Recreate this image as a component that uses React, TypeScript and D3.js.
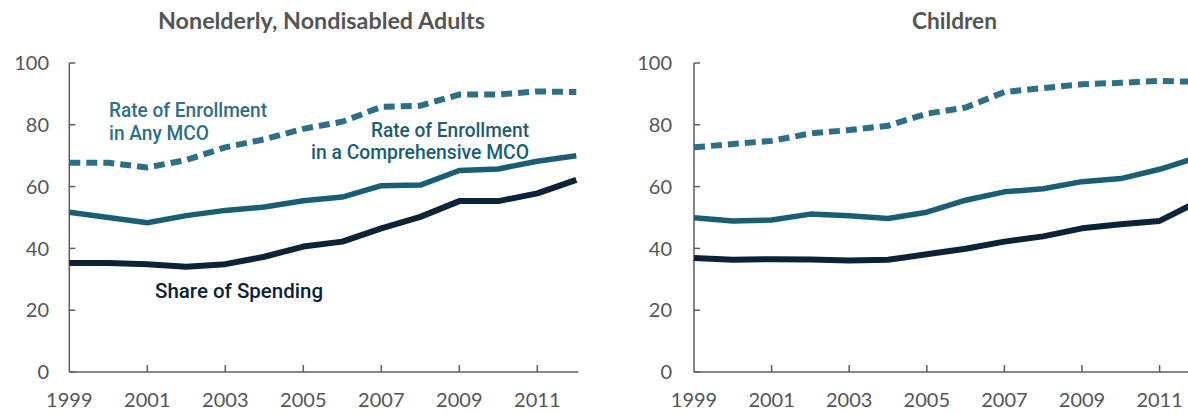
import React from "react";
import * as d3 from "d3";

const years = [1999, 2000, 2001, 2002, 2003, 2004, 2005, 2006, 2007, 2008, 2009, 2010, 2011, 2012];
const tickYears = [1999, 2001, 2003, 2005, 2007, 2009, 2011];
const yTicks = [0, 20, 40, 60, 80, 100];

const adultsAnyMco = [67.7, 67.7, 66.2, 68.6, 72.7, 75.3, 78.7, 81.0, 85.8, 86.2, 89.8, 89.8, 90.8, 90.6];
const adultsComprehensive = [51.7, 50.0, 48.3, 50.6, 52.3, 53.4, 55.4, 56.6, 60.3, 60.5, 65.2, 65.7, 68.2, 70.0];
const adultsSpending = [35.3, 35.3, 34.9, 34.1, 34.9, 37.3, 40.6, 42.2, 46.5, 50.2, 55.3, 55.3, 57.8, 62.2];

const childAnyMco = [72.7, 73.8, 74.8, 77.2, 78.3, 79.7, 83.6, 85.6, 90.6, 91.9, 93.1, 93.6, 94.2, 93.9];
const childComprehensive = [49.9, 48.9, 49.2, 51.1, 50.6, 49.7, 51.7, 55.6, 58.3, 59.3, 61.6, 62.6, 65.6, 69.5];
const childSpending = [36.9, 36.3, 36.5, 36.4, 36.1, 36.3, 38.1, 39.9, 42.2, 43.9, 46.5, 47.8, 48.9, 55.2];

const COL_ANY = "#2e6f88";
const COL_COMP = "#1a5e74";
const COL_SPEND = "#0c2236";
const AXIS = "#5e5e5e";
const TICKTXT = "#555555";

const LABEL_FONT = "'Roboto', 'Noto Sans', sans-serif";
const TICK_FONT = "'Lato', 'Roboto', sans-serif";

type PanelProps = {
  x0: number;
  x1: number;
  title: string;
  titleX: number;
  titleW: number;
  anyMco: number[];
  comp: number[];
  spend: number[];
  labelRight: number;
  children?: React.ReactNode;
};

const Y0 = 372;
const Y100 = 63;

function Panel({ x0, x1, title, titleX, titleW, anyMco, comp, spend, labelRight, children }: PanelProps) {
  const x = d3.scaleLinear().domain([1999, 2012]).range([x0, x1]);
  const y = d3.scaleLinear().domain([0, 100]).range([Y0, Y100]);
  const line = (vals: number[]) =>
    d3
      .line<number>()
      .x((_, i) => x(years[i]))
      .y((v) => y(v))(vals) || "";
  return (
    <g>
      <text
        x={titleX - titleW / 2}
        y={29}
        textLength={titleW}
        lengthAdjust="spacingAndGlyphs"
        fontFamily={TICK_FONT}
        fontWeight={700}
        fontSize={22}
        fill="#555555"
      >
        {title}
      </text>
      <line x1={x0} x2={x0} y1={y(100)} y2={y(0)} stroke={AXIS} strokeWidth={1.5} />
      <line x1={x0} x2={x1 + 2} y1={y(0)} y2={y(0)} stroke={AXIS} strokeWidth={1.5} />
      {yTicks.map((t) => (
        <g key={"y" + t}>
          <line x1={x0} x2={x0 + 6} y1={y(t)} y2={y(t)} stroke={AXIS} strokeWidth={1.5} />
          <text
            x={labelRight}
            y={y(t)}
            dy="0.36em"
            textAnchor="end"
            fontFamily={TICK_FONT}
            fontSize={20}
            fill={TICKTXT}
          >
            {t}
          </text>
        </g>
      ))}
      {tickYears.map((t) => (
        <g key={"x" + t}>
          {t !== 1999 && (
            <line x1={x(t)} x2={x(t)} y1={y(0)} y2={y(0) - 7} stroke={AXIS} strokeWidth={1.5} />
          )}
          <text
            x={x(t)}
            y={407}
            textAnchor="middle"
            fontFamily={TICK_FONT}
            fontSize={20}
            fill={TICKTXT}
          >
            {t}
          </text>
        </g>
      ))}
      <path d={line(spend)} fill="none" stroke={COL_SPEND} strokeWidth={6} strokeLinejoin="round" />
      <path d={line(comp)} fill="none" stroke={COL_COMP} strokeWidth={5.5} strokeLinejoin="round" />
      <path
        d={line(anyMco)}
        fill="none"
        stroke={COL_ANY}
        strokeWidth={6}
        strokeDasharray="11,6"
        strokeLinejoin="miter"
      />
      {children}
    </g>
  );
}

function Label({ x, y, w, color, text }: { x: number; y: number; w: number; color: string; text: string }) {
  return (
    <text
      x={x}
      y={y}
      textLength={w}
      lengthAdjust="spacingAndGlyphs"
      fontFamily={LABEL_FONT}
      fontWeight={500}
      fontSize={21}
      fill={color}
    >
      {text}
    </text>
  );
}

export default function App() {
  return (
    <svg
      width={1188}
      height={414}
      style={{ position: "absolute", left: 0, top: 0, background: "#ffffff" }}
    >
      <rect width={1188} height={414} fill="#ffffff" />
      <Panel
        x0={69.3}
        x1={576.3}
        title="Nonelderly, Nondisabled Adults"
        titleX={321.5}
        titleW={327}
        anyMco={adultsAnyMco}
        comp={adultsComprehensive}
        spend={adultsSpending}
        labelRight={49}
      >
        <Label x={109} y={117} w={158} color={COL_ANY} text="Rate of Enrollment" />
        <Label x={109} y={140} w={100} color={COL_ANY} text="in Any MCO" />
        <Label x={371} y={137} w={158} color={COL_COMP} text="Rate of Enrollment" />
        <Label x={311} y={159} w={218} color={COL_COMP} text="in a Comprehensive MCO" />
        <Label x={155} y={298} w={168} color={COL_SPEND} text="Share of Spending" />
      </Panel>
      <Panel
        x0={694}
        x1={1198.4}
        title="Children"
        titleX={954.5}
        titleW={85}
        anyMco={childAnyMco}
        comp={childComprehensive}
        spend={childSpending}
        labelRight={672}
      />
    </svg>
  );
}
